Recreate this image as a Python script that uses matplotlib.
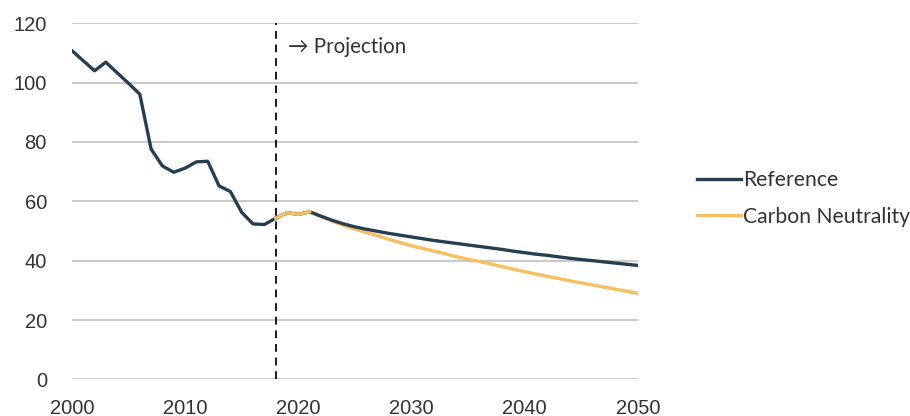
import numpy as np
import matplotlib
matplotlib.use("Agg")
import matplotlib.pyplot as plt

# historical (2000-2018) then projections (2018-2050)
hist_years = list(range(2000, 2019))
hist_values = [110.8, 107.4, 104.0, 106.9, 103.3, 99.8, 96.1, 77.6, 71.9, 69.8,
               71.2, 73.3, 73.5, 65.2, 63.3, 56.3, 52.4, 52.2, 54.3]

proj_years = list(range(2018, 2051))
reference = [54.3, 56.2, 55.6, 56.5, 55.0, 53.6, 52.4, 51.4, 50.6, 49.9,
             49.2, 48.6, 48.0, 47.4, 46.8, 46.3, 45.8, 45.3, 44.8, 44.3,
             43.8, 43.2, 42.7, 42.2, 41.8, 41.3, 40.8, 40.4, 40.0, 39.6,
             39.2, 38.8, 38.4]
carbon_neutrality = [54.3, 56.2, 55.6, 56.5, 54.9, 53.3, 51.9, 50.6, 49.5, 48.4,
                     47.2, 46.1, 45.0, 44.1, 43.2, 42.3, 41.3, 40.5, 39.7, 38.9,
                     38.0, 37.1, 36.3, 35.5, 34.7, 34.0, 33.2, 32.5, 31.8, 31.1,
                     30.4, 29.7, 29.0]

navy = "#243f52"
gold = "#f7bf5e"
grid = "#c0c0c0"
txt = "#333333"

plt.rcParams["font.family"] = ["Liberation Sans", "DejaVu Sans"]

fig = plt.figure(figsize=(9.1, 4.16), dpi=100)
ax = fig.add_axes([0.079, 0.088, 0.622, 0.856])

for y in range(20, 121, 20):
    ax.axhline(y, color=grid, lw=1.2, zorder=0)
ax.axhline(0, color=grid, lw=1.2, zorder=0)

ax.plot(proj_years, carbon_neutrality, color=gold, lw=2.4, label="Carbon Neutrality", zorder=2)
ax.plot(proj_years, reference, color=navy, lw=2.4, zorder=3)
ax.plot(hist_years, hist_values, color=navy, lw=2.4, label="Reference", zorder=3)
ax.plot(proj_years[:4], carbon_neutrality[:4], color=gold, lw=2.4, zorder=4)

ax.plot([2018, 2018], [0, 120], color="#1a1a1a", lw=1.4, ls=(0, (4, 3)), zorder=5)
ax.text(2019.1, 112.0, "\u2192 Projection", fontsize=14.8, color=txt,
        family=["Lato", "DejaVu Sans"], va="center", ha="left")

ax.set_xlim(2000, 2050)
ax.set_ylim(0, 120)
ax.set_xticks(range(2000, 2051, 10))
ax.set_yticks(range(0, 121, 20))
for s in ax.spines.values():
    s.set_visible(False)
ax.tick_params(length=0, labelsize=14.5, colors=txt)
ax.tick_params(axis="y", pad=18)
ax.tick_params(axis="x", pad=14)

handles, labels = ax.get_legend_handles_labels()
order = [labels.index("Reference"), labels.index("Carbon Neutrality")]
leg = fig.legend([handles[i] for i in order], [labels[i] for i in order],
                 loc="center left", bbox_to_anchor=(0.766, 0.523), frameon=False,
                 borderpad=0, borderaxespad=0,
                 handlelength=2.1, handletextpad=0.08, labelspacing=0.8,
                 prop={"family": "Lato", "size": 15.2})
for t in leg.get_texts():
    t.set_color(txt)

fig.savefig("out.png", dpi=100)
